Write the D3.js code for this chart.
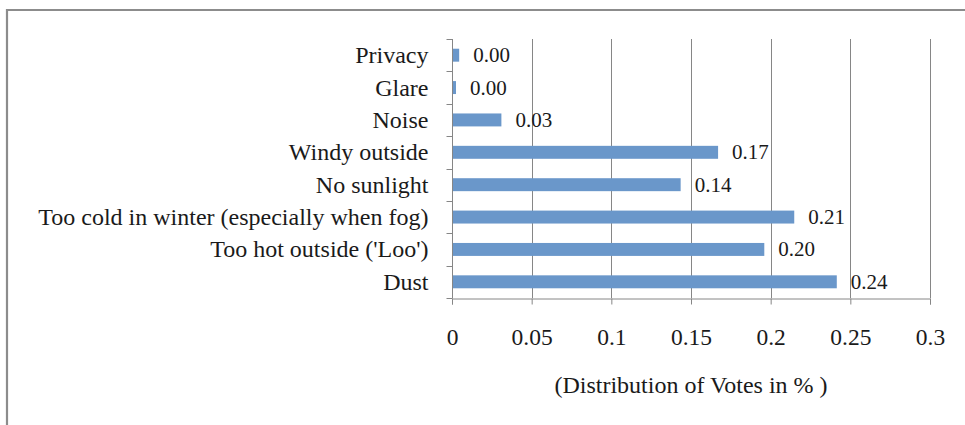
<!DOCTYPE html>
<html>
<head>
<meta charset="utf-8">
<script src="https://cdn.jsdelivr.net/npm/d3@7"></script>
<style>
  body { margin: 0; background: #fff; }
  svg { display: block; }
</style>
</head>
<body>
<svg id="chart" width="965" height="425"></svg>
<script>
// categories top to bottom, as in the picture
const categories = ["Privacy", "Glare", "Noise", "Windy outside", "No sunlight",
  "Too cold in winter (especially when fog)", "Too hot outside ('Loo')", "Dust"]
const votes = [0.0045, 0.0025, 0.031, 0.167, 0.1435, 0.2148, 0.196, 0.2415]
const xTicks = [0, 0.05, 0.1, 0.15, 0.2, 0.25, 0.3]
const xTitle = "(Distribution of Votes in % )"

const font = "'Liberation Serif', 'Times New Roman', serif"
const svg = d3.select("#chart")

// outer frame, cut off at right and bottom
svg.append("path")
  .attr("d", "M7,425 V10 H965")
  .attr("fill", "none")
  .attr("stroke", "#8c8c8c")
  .attr("stroke-width", 2.2)

const x = d3.scaleLinear().domain([0, 0.3]).range([452, 930])
const y = d3.scaleBand().domain(categories).range([39, 298])

const g = svg.append("g")

// vertical gridlines
g.selectAll("line.grid")
  .data(xTicks.slice(1))
  .join("line")
    .attr("class", "grid")
    .attr("x1", d => Math.round(x(d)) + 0.5)
    .attr("x2", d => Math.round(x(d)) + 0.5)
    .attr("y1", 39)
    .attr("y2", 298)
    .attr("stroke", "#868686")

// bars
const barH = y.bandwidth() * 0.4
g.selectAll("rect.bar")
  .data(votes)
  .join("rect")
    .attr("class", "bar")
    .attr("x", x(0))
    .attr("y", (d, i) => y(categories[i]) + (y.bandwidth() - barH) / 2)
    .attr("width", d => x(d) - x(0))
    .attr("height", barH)
    .attr("fill", "#6a97ca")

// data labels
g.selectAll("text.val")
  .data(votes)
  .join("text")
    .attr("class", "val")
    .attr("x", d => x(d) + 14)
    .attr("y", (d, i) => y(categories[i]) + y.bandwidth() / 2 + 7)
    .attr("font-family", font)
    .attr("font-size", 21)
    .attr("fill", "#1a1a1a")
    .text(d => d.toFixed(2))

// y axis
const yAxis = g.append("g")
  .attr("transform", "translate(452.5,0)")
yAxis.append("line")
  .attr("y1", 39).attr("y2", 298)
  .attr("stroke", "#868686")
yAxis.selectAll("line.tick")
  .data(categories.map(c => y(c)).concat([298]))
  .join("line")
    .attr("class", "tick")
    .attr("x1", -6).attr("x2", 0)
    .attr("y1", d => Math.round(d) + 0.5)
    .attr("y2", d => Math.round(d) + 0.5)
    .attr("stroke", "#868686")
yAxis.selectAll("text")
  .data(categories)
  .join("text")
    .attr("x", -24)
    .attr("y", d => y(d) + y.bandwidth() / 2 + 8)
    .attr("text-anchor", "end")
    .attr("font-family", font)
    .attr("font-size", 24)
    .attr("fill", "#1a1a1a")
    .text(d => d)

// x axis
const xAxis = g.append("g")
  .attr("transform", "translate(0,298.5)")
  .call(d3.axisBottom(x).tickValues(xTicks).tickSize(6).tickFormat(d3.format("")))
xAxis.select(".domain").attr("stroke", "#868686")
xAxis.selectAll(".tick line").attr("stroke", "#868686")
xAxis.selectAll(".tick text")
  .attr("y", 46)
  .attr("dy", 0)
  .attr("font-family", font)
  .attr("font-size", 23.5)
  .attr("fill", "#1a1a1a")

svg.append("text")
  .attr("x", 691)
  .attr("y", 393)
  .attr("text-anchor", "middle")
  .attr("font-family", font)
  .attr("font-size", 24)
  .attr("fill", "#1a1a1a")
  .text(xTitle)
</script>
</body>
</html>
